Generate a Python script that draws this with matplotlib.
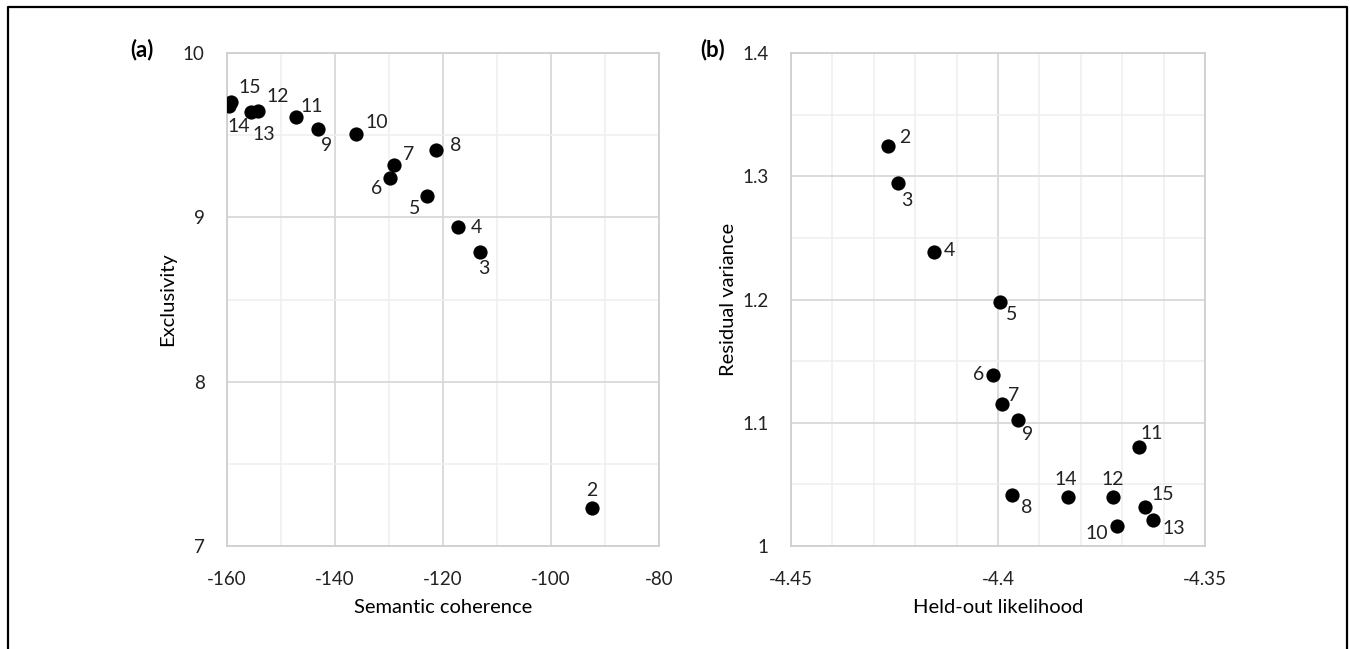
import matplotlib.pyplot as plt
from matplotlib.lines import Line2D
from matplotlib.ticker import MultipleLocator

# panel (a): semantic coherence vs exclusivity, labelled by number of topics
topics_a = [2, 3, 4, 5, 6, 7, 8, 9, 10, 11, 12, 13, 14, 15]
coherence = [-92.4, -113.1, -117.2, -123.0, -129.8, -129.1, -121.3, -143.1,
             -136.1, -147.2, -154.3, -155.6, -159.6, -159.3]
exclusivity = [7.23, 8.79, 8.94, 9.13, 9.24, 9.32, 9.41, 9.54,
               9.51, 9.61, 9.65, 9.64, 9.68, 9.70]

# panel (b): held-out likelihood vs residual variance
topics_b = [2, 3, 4, 5, 6, 7, 8, 9, 10, 11, 12, 13, 14, 15]
heldout = [-4.4266, -4.4242, -4.4155, -4.3995, -4.4012, -4.3990, -4.3966,
           -4.3952, -4.3713, -4.3660, -4.3722, -4.3626, -4.3831, -4.3645]
residual = [1.3245, 1.2945, 1.2385, 1.198, 1.139, 1.1152, 1.0414,
            1.1022, 1.0162, 1.080, 1.0398, 1.0211, 1.0398, 1.0317]

# label offsets in pixels (dx, dy)
offs_a = {2: (0, 18), 3: (4, -17), 4: (18, 0), 5: (-12, -13), 6: (-13, -11),
          7: (15, 10), 8: (20, 4), 9: (8, -17), 10: (21, 11), 11: (16, 11),
          12: (20, 14), 13: (13, -22), 14: (10, -21), 15: (19, 15)}
offs_b = {2: (17, 9), 3: (9, -17), 4: (16, 2), 5: (12, -13), 6: (-14, 0),
          7: (11, 9), 8: (15, -13), 9: (10, -14), 10: (-20, -7), 11: (13, 14),
          12: (0, 17), 13: (21, -9), 14: (-2, 17), 15: (18, 12)}

plt.rcParams['font.family'] = ['Lato', 'DejaVu Sans']

fig = plt.figure(figsize=(13.5, 6.49), dpi=100)
ax1 = fig.add_axes([0.1681, 0.1587, 0.3200, 0.7596])
ax2 = fig.add_axes([0.5859, 0.1587, 0.3067, 0.7596])


def style(ax, xmaj, xmin, ymaj, ymin):
    ax.xaxis.set_major_locator(MultipleLocator(xmaj))
    ax.xaxis.set_minor_locator(MultipleLocator(xmin))
    ax.yaxis.set_major_locator(MultipleLocator(ymaj))
    ax.yaxis.set_minor_locator(MultipleLocator(ymin))
    ax.grid(which='major', color='#d9d9d9', lw=1.3)
    ax.grid(which='minor', color='#efefef', lw=1.1)
    ax.set_axisbelow(True)
    for s in ax.spines.values():
        s.set_color('#cfcfcf')
        s.set_linewidth(1.3)
    ax.tick_params(which='both', length=0, labelsize=13.5, colors='#222222')
    ax.tick_params(axis='x', pad=18)
    ax.tick_params(axis='y', pad=16)
    ax.xaxis.set_major_formatter(plt.FuncFormatter(lambda v, p: f'{v:g}'))
    ax.yaxis.set_major_formatter(plt.FuncFormatter(lambda v, p: f'{v:g}'))


def draw(ax, xs, ys, labels, offs):
    ax.scatter(xs, ys, s=105, color='black', zorder=3, linewidths=0)
    for x, y, t in zip(xs, ys, labels):
        dx, dy = offs[t]
        ax.annotate(str(t), (x, y), xytext=(dx, dy), textcoords='offset pixels',
                    ha='center', va='center', fontsize=14, color='#222222')


style(ax1, 20, 10, 1, 0.5)
draw(ax1, coherence, exclusivity, topics_a, offs_a)
ax1.set_xlim(-160, -80)
ax1.set_ylim(7, 10)
ax1.set_xlabel('Semantic coherence', fontsize=14.5, labelpad=8)
ax1.set_ylabel('Exclusivity', fontsize=14.5, labelpad=5)

style(ax2, 0.05, 0.01, 0.1, 0.05)
draw(ax2, heldout, residual, topics_b, offs_b)
ax2.set_xlim(-4.45, -4.35)
ax2.set_ylim(1.0, 1.4)
ax2.set_xlabel('Held-out likelihood', fontsize=14.5, labelpad=8)
ax2.set_ylabel('Residual variance', fontsize=14.5, labelpad=4)

fig.text(142 / 1350, 1 - 50 / 649, '(a)', fontsize=16, fontweight='bold',
         ha='center', va='center')
fig.text(713 / 1350, 1 - 50 / 649, '(b)', fontsize=16, fontweight='bold',
         ha='center', va='center')

# outer frame (bottom edge falls outside the image)
fx = [8 / 1350, 8 / 1350, 1347 / 1350, 1347 / 1350]
fy = [-0.05, 1 - 7 / 649, 1 - 7 / 649, -0.05]
fig.add_artist(Line2D(fx, fy, transform=fig.transFigure, color='black', lw=1.6))

fig.savefig('out.png', dpi=100)
